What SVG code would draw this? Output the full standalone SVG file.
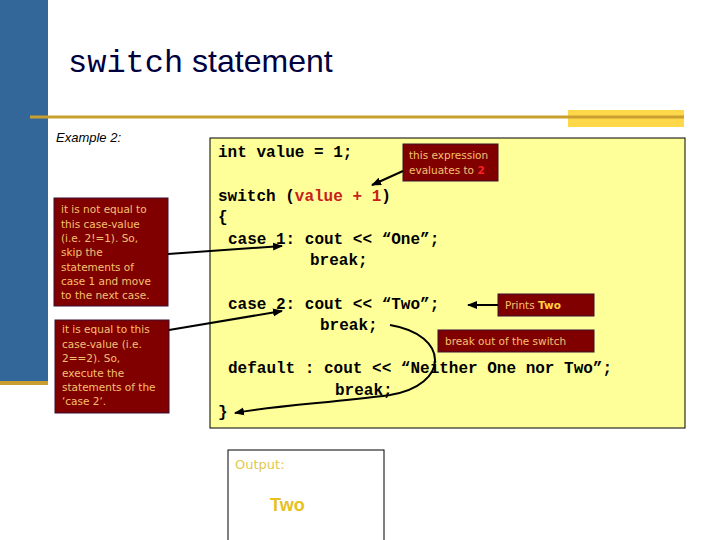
<svg xmlns="http://www.w3.org/2000/svg" width="720" height="540" viewBox="0 0 720 540">
<defs>
<marker id="ah" viewBox="0 0 10 10" refX="9" refY="5" markerWidth="5" markerHeight="5" orient="auto"><path d="M0,1 L10,5 L0,9 z" fill="#000"/></marker>
<style>
.code{font-family:"Liberation Mono",monospace;font-weight:bold;font-size:16px;fill:#000}
.red{fill:#c8201a}
.cb{fill:#800000;stroke:#3a1030;stroke-width:1}
.ct{font-family:"DejaVu Sans",sans-serif;font-size:10.5px;fill:#f5c070}
.ln{fill:none;stroke:#000;stroke-width:2;marker-end:url(#ah)}
</style>
</defs>
<rect width="720" height="540" fill="#fff"/>
<rect x="0" y="0" width="48" height="382" fill="#336699"/>
<rect x="568" y="110" width="116" height="17" fill="#ffd84a"/>
<line x1="30" y1="117" x2="684" y2="117" stroke="#c9a030" stroke-width="3"/>
<line x1="0" y1="383" x2="48" y2="383" stroke="#c9a030" stroke-width="4"/>
<text x="68" y="72" font-size="32" fill="#000040"><tspan font-family="Liberation Mono,monospace">switch</tspan><tspan font-family="Liberation Sans,sans-serif"> statement</tspan></text>
<text x="56" y="142" font-family="Liberation Sans,sans-serif" font-style="italic" font-size="13" fill="#000">Example 2:</text>
<g id="code">
<rect x="210" y="138" width="475" height="290" fill="#ffff99" stroke="#000" stroke-width="1"/>
<text class="code" x="218" y="157">int value = 1;</text>
<text class="code" x="218" y="201">switch (<tspan class="red">value + 1</tspan>)</text>
<text class="code" x="218" y="222">{</text>
<text class="code" x="228" y="244">case 1: cout &lt;&lt; “One”;</text>
<text class="code" x="310" y="265">break;</text>
<text class="code" x="228" y="309">case 2: cout &lt;&lt; “Two”;</text>
<text class="code" x="320" y="330">break;</text>
<text class="code" x="228" y="373">default : cout &lt;&lt; “Neither One nor Two”;</text>
<text class="code" x="335" y="395">break;</text>
<text class="code" x="218" y="417">}</text>
</g>
<g id="note1"><rect class="cb" x="54" y="198" width="114" height="108"/>
<text class="ct"><tspan x="61" y="213">it is not equal to</tspan><tspan x="61" y="228">this case-value</tspan><tspan x="61" y="242">(i.e. 2!=1).  So,</tspan><tspan x="61" y="256">skip the</tspan><tspan x="61" y="271">statements of</tspan><tspan x="61" y="285">case 1 and  move</tspan><tspan x="61" y="299">to the next case.</tspan></text></g>
<g id="note2"><rect class="cb" x="55" y="320" width="114" height="93"/>
<text class="ct"><tspan x="62" y="333">it is equal to this</tspan><tspan x="62" y="348">case-value (i.e.</tspan><tspan x="62" y="362">2==2).  So,</tspan><tspan x="62" y="377">execute the</tspan><tspan x="62" y="391">statements of the</tspan><tspan x="62" y="405">‘case 2‘.</tspan></text></g>
<g id="note3"><rect class="cb" x="403" y="144" width="95" height="37"/>
<text class="ct"><tspan x="409" y="159">this expression</tspan><tspan x="409" y="174">evaluates to <tspan font-weight="bold" fill="#ff2020">2</tspan></tspan></text></g>
<g id="note4"><rect class="cb" x="498" y="294" width="96" height="22"/>
<text class="ct" x="505" y="309">Prints <tspan font-weight="bold" fill="#ffd040">Two</tspan></text></g>
<g id="note5"><rect class="cb" x="438" y="330" width="156" height="22"/>
<text class="ct" x="445" y="345">break out of the switch</text></g>
<g id="output"><rect x="228" y="450" width="156" height="95" fill="#fff" stroke="#000" stroke-width="1"/>
<text x="235" y="469" font-family="DejaVu Sans,sans-serif" font-size="13" fill="#e0c850">Output:</text>
<text x="270" y="511" font-family="Liberation Sans,sans-serif" font-weight="bold" font-size="18" fill="#e8c020">Two</text></g>
<g id="connectors">
<line class="ln" x1="403" y1="171" x2="372" y2="185"/>
<line class="ln" x1="168" y1="254" x2="282" y2="246"/>
<line class="ln" x1="169" y1="330" x2="282" y2="311"/>
<line class="ln" x1="498" y1="305" x2="468" y2="305"/>
<path class="ln" d="M390,325 C450,335 450,385 390,395 C330,403 280,405 235,413"/>
</g>
</svg>
